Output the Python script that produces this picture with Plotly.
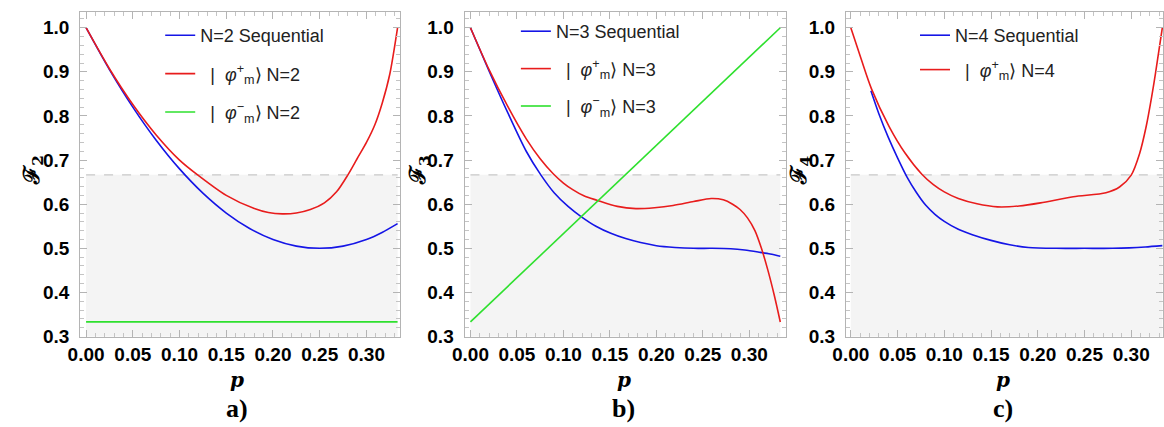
import plotly.graph_objects as go

# ---------------- data ----------------
# Panel a) N = 2
p_a_seq = [0.0, 0.025, 0.05, 0.075, 0.1, 0.125, 0.15, 0.175, 0.2, 0.225, 0.25, 0.275, 0.3, 0.3167, 0.3333]
f_a_seq = [1.0, 0.905, 0.820, 0.745, 0.680, 0.625, 0.580, 0.545, 0.520, 0.505, 0.500, 0.505, 0.520, 0.536, 0.556]
p_a_plus = [0.0, 0.025, 0.05, 0.075, 0.1, 0.119, 0.15, 0.18, 0.195, 0.21, 0.225, 0.24, 0.255, 0.268, 0.28, 0.29, 0.3, 0.309, 0.317, 0.325, 0.3333]
f_a_plus = [1.0, 0.907, 0.826, 0.757, 0.700, 0.667, 0.620, 0.590, 0.581, 0.578, 0.580, 0.588, 0.603, 0.628, 0.666, 0.703, 0.740, 0.780, 0.830, 0.895, 1.0]
p_a_minus = [0.0, 0.3333]
f_a_minus = [0.3333, 0.3333]

# Panel b) N = 3
p_b_seq = [0.0, 0.02, 0.04, 0.06, 0.0755, 0.09, 0.105, 0.119, 0.135, 0.151, 0.167, 0.183, 0.2, 0.22, 0.24, 0.26, 0.28, 0.295, 0.311, 0.3225, 0.3333]
f_b_seq = [1.0, 0.902, 0.808, 0.720, 0.667, 0.626, 0.595, 0.572, 0.550, 0.534, 0.522, 0.513, 0.506, 0.502, 0.500, 0.500, 0.499, 0.496, 0.491, 0.487, 0.482]
p_b_plus = [0.0, 0.02, 0.04, 0.06, 0.075, 0.089, 0.1, 0.11, 0.122, 0.136, 0.158, 0.178, 0.198, 0.218, 0.24, 0.259, 0.272, 0.282, 0.29, 0.298, 0.306, 0.313, 0.32, 0.327, 0.3333]
f_b_plus = [1.0, 0.905, 0.822, 0.748, 0.703, 0.669, 0.648, 0.633, 0.619, 0.609, 0.595, 0.590, 0.592, 0.597, 0.606, 0.613, 0.610, 0.600, 0.588, 0.569, 0.540, 0.500, 0.450, 0.392, 0.333]
p_b_minus = [0.0, 0.3333]
f_b_minus = [0.3333, 1.0]

# Panel c) N = 4
p_c_seq = [0.0215, 0.03, 0.04, 0.05, 0.06, 0.07, 0.08, 0.09, 0.1, 0.115, 0.13, 0.15, 0.17, 0.19, 0.22, 0.25, 0.28, 0.298, 0.315, 0.3333]
f_c_seq = [0.857, 0.805, 0.752, 0.705, 0.662, 0.627, 0.598, 0.577, 0.561, 0.543, 0.531, 0.518, 0.508, 0.502, 0.500, 0.500, 0.500, 0.501, 0.503, 0.506]
p_c_plus = [0.0, 0.0109, 0.022, 0.041, 0.058, 0.076, 0.088, 0.1, 0.115, 0.135, 0.157, 0.18, 0.203, 0.238, 0.273, 0.2875, 0.3, 0.309, 0.316, 0.322, 0.326, 0.3333]
f_c_plus = [1.0, 0.930, 0.862, 0.776, 0.716, 0.668, 0.645, 0.628, 0.613, 0.601, 0.594, 0.596, 0.603, 0.617, 0.626, 0.639, 0.666, 0.715, 0.776, 0.845, 0.897, 1.0]

x_ticks = [0.0, 0.05, 0.1, 0.15, 0.2, 0.25, 0.3]
x_tick_labels = ["0.00", "0.05", "0.10", "0.15", "0.20", "0.25", "0.30"]
y_ticks = [0.3, 0.4, 0.5, 0.6, 0.7, 0.8, 0.9, 1.0]
y_tick_labels = ["0.3", "0.4", "0.5", "0.6", "0.7", "0.8", "0.9", "1.0"]
threshold = 2 / 3
p_max = 1 / 3

# ---------------- styling ----------------
W, H = 1164, 427
TOP, BOT = 12, 337
BLUE, RED, GREEN = "#1515e6", "#e81c1c", "#2ee02e"


def px(x):
    return x / W


def py(y):
    return (BOT - y) / (BOT - TOP)


fig = go.Figure()

panels = [
    dict(n=2, seq=(p_a_seq, f_a_seq), plus=(p_a_plus, f_a_plus), minus=(p_a_minus, f_a_minus),
         dom=(68, 392), xr=[-0.0063, 0.3362], leg=(149, 17), gap=12, ytitle_x=20, xt_x=227, lab="a)"),
    dict(n=3, seq=(p_b_seq, f_b_seq), plus=(p_b_plus, f_b_plus), minus=(p_b_minus, f_b_minus),
         dom=(457, 782), xr=[-0.0064, 0.339], leg=(509, 13), gap=11, ytitle_x=411, xt_x=618, lab="b)"),
    dict(n=4, seq=(p_c_seq, f_c_seq), plus=(p_c_plus, f_c_plus), minus=None,
         dom=(843, 1164), xr=[-0.0053, 0.334], leg=(913, 17), gap=8, ytitle_x=797, xt_x=1002, lab="c)"),
]

tick_font = dict(family="Liberation Sans, Arial", size=19, color="black", weight="bold")
axis_common = dict(showgrid=False, zeroline=False, showline=True, linecolor="#b4b4b4", linewidth=1,
                   mirror="allticks", ticks="inside", ticklen=7, tickcolor="#b4b4b4", tickwidth=1,
                   tickfont=tick_font)

annotations = []
shapes = []
for i, pn in enumerate(panels, start=1):
    sfx = "" if i == 1 else str(i)
    xa, ya = "x" + sfx, "y" + sfx
    leg = "legend" + sfx
    traces = [("N=%d Sequential" % pn["n"], pn["seq"], BLUE),
              ("  |  <i>φ</i><sup>+</sup><sub>m</sub>⟩ N=%d" % pn["n"], pn["plus"], RED)]
    if pn["minus"] is not None:
        traces.append(("  |  <i>φ</i><sup>−</sup><sub>m</sub>⟩ N=%d" % pn["n"], pn["minus"], GREEN))
    for j, (name, (xs, ys), col) in enumerate(traces):
        fig.add_trace(go.Scatter(x=xs, y=ys, mode="lines", name=name,
                                 line=dict(color=col, width=1.6, shape="spline", smoothing=0.8),
                                 xaxis=xa, yaxis=ya, legend=leg, legendgroup="g%d_%d" % (i, j),
                                 hoverinfo="skip"))
    fig.update_layout(**{
        "xaxis" + sfx: dict(axis_common, domain=[px(pn["dom"][0]), px(pn["dom"][1])], range=pn["xr"],
                            anchor=ya, tickvals=x_ticks, ticktext=x_tick_labels,
                            minor=dict(dtick=0.01, ticks="inside", ticklen=4, tickcolor="#c4c4c4")),
        "yaxis" + sfx: dict(axis_common, domain=[0, 1], range=[0.299, 1.0356], anchor=xa,
                            tickvals=y_ticks, ticktext=y_tick_labels, ticklabelstandoff=6,
                            minor=dict(dtick=0.02, ticks="inside", ticklen=4, tickcolor="#c4c4c4")),
        leg: dict(x=px(pn["leg"][0]), y=py(pn["leg"][1]), xanchor="left", yanchor="top",
                  bgcolor="rgba(0,0,0,0)", tracegroupgap=pn["gap"],
                  font=dict(family="Liberation Sans, Arial", size=18, color="#222222")),
    })
    shapes.append(dict(type="rect", xref=xa, yref=ya, x0=0, x1=p_max, y0=0.3, y1=threshold,
                       fillcolor="#f4f4f4", line=dict(width=0), layer="below"))
    shapes.append(dict(type="line", xref=xa, yref=ya, x0=0, x1=p_max, y0=threshold, y1=threshold,
                       line=dict(color="#c8c8c8", width=1.3, dash="dash"), layer="below"))
    annotations.append(dict(text="ℱ<sub>%d</sub>" % pn["n"], x=px(pn["ytitle_x"]), y=py(170),
                            xref="paper", yref="paper", showarrow=False, textangle=-90,
                            xanchor="center", yanchor="middle",
                            font=dict(family="DejaVu Serif", size=22, color="black", weight="bold")))
    annotations.append(dict(text="<i>p</i>", x=px(pn["xt_x"]), y=py(380), xref="paper", yref="paper",
                            showarrow=False, xanchor="center", yanchor="middle",
                            font=dict(family="DejaVu Serif", size=20, color="black", weight="bold")))
    annotations.append(dict(text=pn["lab"], x=px(pn["xt_x"]), y=py(408), xref="paper", yref="paper",
                            showarrow=False, xanchor="center", yanchor="middle",
                            font=dict(family="Liberation Serif", size=26, color="black", weight="bold")))

fig.update_layout(width=W, height=H, margin=dict(l=0, r=0, t=TOP, b=H - BOT),
                  paper_bgcolor="white", plot_bgcolor="white", showlegend=True,
                  shapes=shapes, annotations=annotations)

fig.write_html("out.html")
